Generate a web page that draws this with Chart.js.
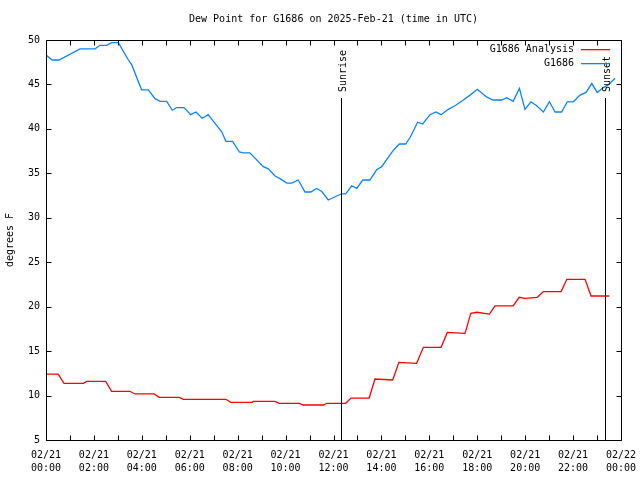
<!DOCTYPE html>
<html><head><meta charset="utf-8">
<script src="https://cdn.jsdelivr.net/npm/chart.js@4/dist/chart.umd.min.js"></script>
<style>html,body{margin:0;padding:0;background:#fff}#wrap{width:640px;height:480px}</style>
</head><body><div id="wrap"><canvas id="c" width="640" height="480"></canvas></div>
<script>
const titleText = 'Dew Point for G1686 on 2025-Feb-21 (time in UTC)';
const yAxisTitle = 'degrees F';
const seriesNames = ['G1686 Analysis', 'G1686'];

// observed (G1686) — hours since 02/21 00:00 UTC
const obsHours = [0.00,0.26,0.54,1.42,2.05,2.25,2.53,2.74,3.02,3.44,3.58,3.99,4.27,4.55,4.76,5.04,5.27,5.46,5.76,6.04,6.26,6.52,6.77,7.12,7.33,7.51,7.79,8.07,8.24,8.51,9.07,9.28,9.56,9.77,10.05,10.26,10.53,10.81,11.05,11.30,11.51,11.78,12.13,12.34,12.51,12.76,12.97,13.22,13.52,13.80,14.01,14.50,14.75,15.01,15.19,15.51,15.72,16.03,16.27,16.49,16.79,17.07,17.42,17.70,18.00,18.39,18.65,19.02,19.23,19.50,19.76,19.99,20.24,20.48,20.76,21.01,21.25,21.52,21.76,22.01,22.29,22.54,22.78,23.01,23.26,23.47,23.75];
const obsValues = [48.3,47.75,47.75,49.0,49.0,49.4,49.4,49.7,49.7,47.75,47.2,44.4,44.4,43.4,43.1,43.1,42.1,42.4,42.4,41.6,41.9,41.2,41.6,40.4,39.7,38.6,38.6,37.4,37.3,37.3,35.75,35.5,34.7,34.4,33.9,33.9,34.25,32.9,32.9,33.3,32.95,32.0,32.45,32.7,32.7,33.6,33.3,34.25,34.25,35.4,35.75,37.6,38.3,38.3,39.0,40.75,40.55,41.6,41.9,41.6,42.2,42.6,43.25,43.8,44.45,43.6,43.25,43.25,43.5,43.1,44.55,42.2,43.05,42.6,41.9,43.05,41.9,41.9,43.05,43.05,43.8,44.1,45.1,44.1,44.65,44.95,45.7];

// analysis (G1686 Analysis)
const anaHours = [0.00,0.51,0.75,1.56,1.70,2.49,2.74,3.50,3.71,4.52,4.72,5.56,5.73,7.51,7.71,8.61,8.65,9.56,9.73,10.57,10.74,11.58,11.72,12.51,12.73,13.49,13.73,14.47,14.73,15.47,15.75,16.49,16.75,17.49,17.73,17.98,18.51,18.74,19.50,19.75,19.99,20.51,20.76,21.50,21.74,22.50,22.75,23.51];
const anaValues = [12.4,12.4,11.38,11.38,11.6,11.6,10.48,10.48,10.18,10.18,9.8,9.8,9.58,9.58,9.24,9.24,9.35,9.35,9.13,9.13,8.94,8.94,9.13,9.13,9.72,9.72,11.86,11.75,13.74,13.63,15.43,15.43,17.1,17.0,19.25,19.37,19.17,20.08,20.08,21.05,20.94,21.05,21.7,21.7,23.08,23.08,21.2,21.2];

// x tick labels every 2 hours
const xTickHours = [0,2,4,6,8,10,12,14,16,18,20,22,24];
const xTickDates = ['02/21','02/21','02/21','02/21','02/21','02/21','02/21','02/21','02/21','02/21','02/21','02/21','02/22'];
const xTickTimes = ['00:00','02:00','04:00','06:00','08:00','10:00','12:00','14:00','16:00','18:00','20:00','22:00','00:00'];
const yTickValues = [5,10,15,20,25,30,35,40,45,50];

const sunEvents = [{label:'Sunrise', hour:12.32}, {label:'Sunset', hour:23.33}];

const FONT = "'DejaVu Sans Mono', 'Liberation Mono', monospace";
const RED = '#ff0000', BLUE = '#0a84ff';

const decor = {
  id: 'decor',
  afterDraw(chart) {
    const ctx = chart.ctx, a = chart.chartArea;
    const xs = chart.scales.x, ys = chart.scales.y;
    ctx.save();
    ctx.strokeStyle = '#000'; ctx.lineWidth = 1;
    const L = Math.round(a.left) + 0.5, R = Math.round(a.right) + 0.5;
    const T = Math.round(a.top) + 0.5, B = Math.round(a.bottom) + 0.5;
    ctx.beginPath();
    ctx.rect(L, T, R - L, B - T);
    // x ticks every hour, top and bottom, inward
    for (let h = 0; h <= 24; h++) {
      const px = Math.round(xs.getPixelForValue(h)) + 0.5;
      ctx.moveTo(px, B); ctx.lineTo(px, B - 5);
      ctx.moveTo(px, T); ctx.lineTo(px, T + 5);
    }
    yTickValues.forEach(v => {
      const py = Math.round(ys.getPixelForValue(v)) + 0.5;
      ctx.moveTo(L, py); ctx.lineTo(L + 5, py);
      ctx.moveTo(R, py); ctx.lineTo(R - 5, py);
    });
    ctx.stroke();
    // sunrise / sunset
    ctx.font = '10px ' + FONT; ctx.fillStyle = '#000';
    sunEvents.forEach(e => {
      const px = Math.round(xs.getPixelForValue(e.hour)) + 0.5;
      ctx.beginPath(); ctx.moveTo(px, 98); ctx.lineTo(px, B); ctx.stroke();
      ctx.save();
      ctx.translate(px + 2, 92);
      ctx.rotate(-Math.PI / 2);
      ctx.textAlign = 'left'; ctx.textBaseline = 'middle';
      ctx.fillText(e.label, 0, 0);
      ctx.restore();
    });
    // title
    ctx.textAlign = 'center'; ctx.textBaseline = 'middle';
    ctx.fillText(titleText, (a.left + a.right) / 2, 19);
    // y title
    ctx.save();
    ctx.translate(10, (a.top + a.bottom) / 2);
    ctx.rotate(-Math.PI / 2);
    ctx.fillText(yAxisTitle, 0, 0);
    ctx.restore();
    // legend
    const cols = [RED, BLUE];
    seriesNames.forEach((n, i) => {
      const y = 49 + i * 14;
      ctx.textAlign = 'right'; ctx.fillStyle = '#000';
      ctx.fillText(n, 574, y);
      ctx.fillStyle = cols[i];
      ctx.fillRect(581, y, 29, 1.3);
    });
    ctx.restore();
  }
};

new Chart(document.getElementById('c'), {
  type: 'line',
  data: {
    datasets: [
      { label: seriesNames[0], data: anaHours.map((h, i) => ({x: h, y: anaValues[i]})),
        borderColor: RED, borderWidth: 1.3, pointRadius: 0, tension: 0, fill: false },
      { label: seriesNames[1], data: obsHours.map((h, i) => ({x: h, y: obsValues[i]})),
        borderColor: BLUE, borderWidth: 1.3, pointRadius: 0, tension: 0, fill: false }
    ]
  },
  options: {
    responsive: false, animation: false, devicePixelRatio: 1,
    layout: { padding: { top: 40, right: 19, left: 0, bottom: 0 } },
    plugins: { legend: { display: false }, title: { display: false }, tooltip: { enabled: false } },
    scales: {
      x: {
        type: 'linear', min: 0, max: 24,
        afterBuildTicks: s => { s.ticks = xTickHours.map(v => ({value: v})); },
        afterFit: s => { s.height = 40; s.paddingLeft = 0; s.paddingRight = 0; },
        grid: { display: false, drawTicks: false }, border: { display: false },
        ticks: {
          autoSkip: false, maxRotation: 0, minRotation: 0, padding: 9, color: '#000',
          font: { family: FONT, size: 10, lineHeight: 1.3 },
          callback: v => { const i = xTickHours.indexOf(v); return i >= 0 ? [xTickDates[i], xTickTimes[i]] : ''; }
        }
      },
      y: {
        type: 'linear', min: 5, max: 50,
        afterBuildTicks: s => { s.ticks = yTickValues.map(v => ({value: v})); },
        afterFit: s => { s.width = 46; s.paddingTop = 0; s.paddingBottom = 0; },
        grid: { display: false, drawTicks: false }, border: { display: false },
        ticks: { padding: 6, color: '#000', font: { family: FONT, size: 10 } }
      }
    }
  },
  plugins: [decor]
});
</script>
</body></html>
